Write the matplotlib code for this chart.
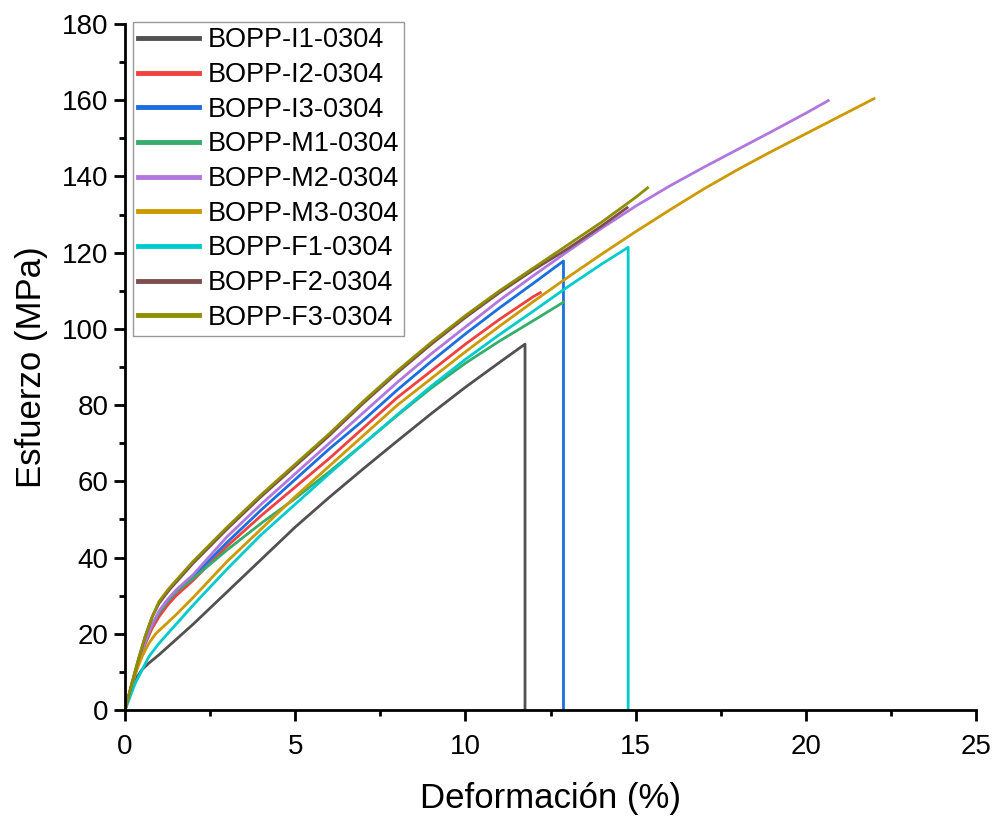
import numpy as np
import matplotlib.pyplot as plt

plt.rcParams['font.family'] = ['Liberation Sans', 'DejaVu Sans']

names = ["BOPP-I1-0304", "BOPP-I2-0304", "BOPP-I3-0304",
         "BOPP-M1-0304", "BOPP-M2-0304", "BOPP-M3-0304",
         "BOPP-F1-0304", "BOPP-F2-0304", "BOPP-F3-0304"]
colors = ["#515151", "#F14040", "#1A6FDF", "#37AD6B", "#B177DE",
          "#CC9900", "#00CBCC", "#7D4E4E", "#8E8E00"]

# deformacion (%) / esfuerzo (MPa)
i1_x = [0, 0.1, 0.2, 0.35, 0.5, 0.7, 1, 1.5, 2, 3, 4, 5, 6, 7, 8, 9, 10, 11, 11.75, 11.75]
i1_y = [0, 3, 5.8, 8.6, 10.6, 12.3, 14.5, 18.5, 22.5, 31, 39.5, 48, 55.8, 63.3, 70.6,
        77.8, 84.7, 91.2, 96, 0]

i2_x = [0, 0.2, 0.4, 0.6, 0.8, 1, 1.25, 1.5, 2, 3, 4, 5, 6, 7, 8, 9, 10, 11, 12, 12.2]
i2_y = [0, 6.5, 12.5, 17.5, 21.5, 24.5, 27.5, 30, 34, 43, 51, 58.5, 66, 74, 82, 89,
        96, 102.5, 108.5, 109.5]

i3_x = [0, 0.2, 0.4, 0.6, 0.8, 1, 1.25, 1.5, 2, 3, 4, 5, 6, 7, 8, 9, 10, 11, 12,
        12.88, 12.88]
i3_y = [0, 6.5, 12.5, 18, 22.5, 25.5, 28.5, 31, 35, 44, 52.5, 60.5, 68.5, 76, 84, 91.5,
        98.7, 105.5, 112, 117.8, 0]

m1_x = [0, 0.2, 0.4, 0.6, 0.8, 1, 1.25, 1.5, 2, 3, 4, 5, 6, 7, 8, 9, 10, 11, 12, 12.88]
m1_y = [0, 6.5, 12.5, 18, 22.5, 25.5, 28.5, 31, 34.5, 42, 49, 55.5, 62.5, 69.8, 77.3,
        84.5, 91, 96.8, 102.2, 107]

m2_x = [0, 0.2, 0.4, 0.6, 0.8, 1, 1.25, 1.5, 2, 3, 4, 5, 6, 7, 8, 9, 10, 11, 12, 13,
        14, 15, 16, 17, 18, 19, 20, 20.66]
m2_y = [0, 6.5, 12.5, 18, 22.5, 26, 29, 31.5, 35.5, 45.5, 54, 62, 70, 78, 86, 93.5,
        100.5, 107.5, 114, 120.3, 126.4, 132.2, 137.5, 142.4, 147.1, 151.8, 156.6, 159.9]

m3_x = [0, 0.15, 0.3, 0.5, 0.7, 0.9, 1.2, 1.5, 2, 3, 4, 5, 6, 7, 8, 9, 10, 11, 12,
        13, 14, 15, 16, 17, 18, 19, 20, 21, 22]
m3_y = [0, 5, 9.5, 14, 17.5, 20, 22.5, 25, 29.5, 39, 47.5, 56, 64, 72, 80, 87, 94,
        100.7, 107.2, 113.5, 119.6, 125.5, 131.2, 136.7, 141.8, 146.6, 151.2, 155.8, 160.4]

f1_x = [0, 0.15, 0.3, 0.5, 0.7, 1, 1.5, 2, 3, 4, 5, 6, 7, 8, 9, 10, 11, 12, 13, 14,
        14.78, 14.78]
f1_y = [0, 3.5, 7, 10.5, 14, 17.5, 22.5, 27.5, 37, 46, 54, 62, 69.8, 77.5, 85, 92,
        98.5, 104.7, 111, 117, 121.4, 0]

f2_x = [0, 0.2, 0.4, 0.6, 0.8, 1, 1.3, 1.6, 2, 3, 4, 5, 6, 7, 8, 9, 10, 11, 12, 13,
        14, 14.75]
f2_y = [0, 7, 13.5, 19.5, 24.5, 28, 31.5, 34.5, 38.5, 47.5, 56, 64, 72, 80.5, 88.5,
        96, 103, 109.5, 115.5, 121, 127, 131.8]

f3_x = [0, 0.2, 0.4, 0.6, 0.8, 1, 1.3, 1.6, 2, 3, 4, 5, 6, 7, 8, 9, 10, 11, 12, 13,
        14, 15, 15.35]
f3_y = [0, 7, 13.5, 19.5, 24.5, 28.5, 32, 35, 39, 48, 56.5, 64.5, 72.5, 81, 89, 96.5,
        103.5, 110, 116, 122, 128, 134.5, 137]

series_x = [i1_x, i2_x, i3_x, m1_x, m2_x, m3_x, f1_x, f2_x, f3_x]
series_y = [i1_y, i2_y, i3_y, m1_y, m2_y, m3_y, f1_y, f2_y, f3_y]

fig = plt.figure(figsize=(9.97, 8.19), dpi=100)
ax = fig.add_axes([0.1254, 0.1331, 0.8536, 0.8376])

for x, y, c, n in zip(series_x, series_y, colors, names):
    ax.plot(x, y, color=c, lw=2, label=n, solid_joinstyle='round')

ax.set_xlim(0, 25)
ax.set_ylim(0, 180)
ax.set_xticks(np.arange(0, 26, 5))
ax.set_xticks(np.arange(2.5, 25, 5), minor=True)
ax.set_yticks(np.arange(0, 181, 20))
ax.set_yticks(np.arange(10, 180, 20), minor=True)

for s in ['top', 'right']:
    ax.spines[s].set_visible(False)
for s in ['left', 'bottom']:
    ax.spines[s].set_linewidth(2)

ax.tick_params(which='major', direction='out', length=8, width=2, labelsize=20, pad=4)
ax.tick_params(axis='x', which='major', pad=9)
ax.tick_params(which='minor', direction='out', length=4.5, width=2)

ax.set_xlabel("Deformación (%)", fontsize=25, labelpad=16)
ax.set_ylabel("Esfuerzo (MPa)", fontsize=25, labelpad=10)

leg = ax.legend(loc='upper left', bbox_to_anchor=(133 / 997, 1 - 22 / 819),
                bbox_transform=fig.transFigure, fontsize=19.5, frameon=True,
                fancybox=False, edgecolor='#808080', handlelength=2.25,
                handletextpad=0.3, labelspacing=0.32, borderpad=0.2,
                borderaxespad=0)
leg.get_frame().set_linewidth(1.0)
for h in leg.legend_handles:
    h.set_linewidth(3.5)

fig.savefig("out.png", dpi=100)
